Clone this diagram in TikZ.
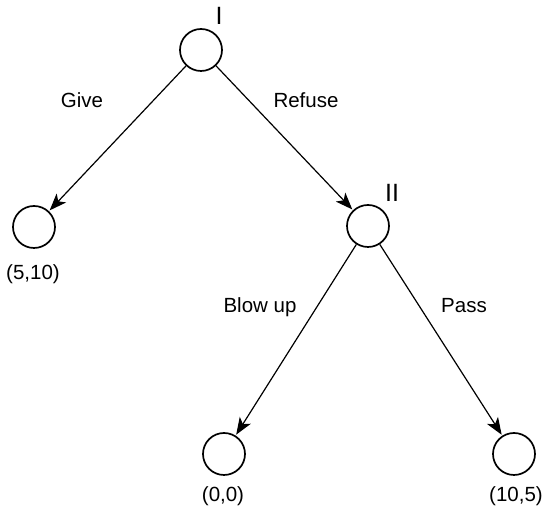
\documentclass[tikz,border=0pt]{standalone}
\usepackage{fontspec}
\setmainfont{Liberation Sans}
\usetikzlibrary{arrows.meta}
\begin{document}
\begin{tikzpicture}[x=1pt,y=1pt,
  decision/.style={circle,draw,line width=1.7pt,minimum size=42pt,inner sep=0pt},
  move/.style={line width=1.2pt,-{Stealth[length=17pt,width=13pt,inset=4.5pt]},shorten >=1pt},
  lbl/.style={font=\fontsize{20.5}{24}\selectfont,inner sep=0pt,anchor=base},
  player/.style={lbl,font=\fontsize{25}{28}\selectfont}]
\useasboundingbox (0,0) rectangle (544,510);
% decision nodes and leaves
\node[decision] (p1) at (201,460) {};
\node[decision] (p2) at (368,284) {};
\node[decision] (give) at (34,283) {};
\node[decision] (blow) at (224,56) {};
\node[decision] (pass) at (514,56) {};
% player labels
\node[player] (n1) at (219,485) {I};
\node[player] (n2) at (392,308) {II};
% moves
\draw[move] (p1) -- (give);
\draw[move] (p1) -- (p2);
\draw[move] (p2) -- (blow);
\draw[move] (p2) -- (pass);
% move labels
\node[lbl] (tg) at (82,402) {Give};
\node[lbl] (tr) at (306,402) {Refuse};
\node[lbl] (tb) at (260,197) {Blow up};
\node[lbl] (tp) at (464,197) {Pass};
% payoffs
\node[lbl] (v1) at (33,230) {(5,10)};
\node[lbl] (v2) at (223,8) {(0,0)};
\node[lbl] (v3) at (516,8) {(10,5)};
\end{tikzpicture}
\end{document}
